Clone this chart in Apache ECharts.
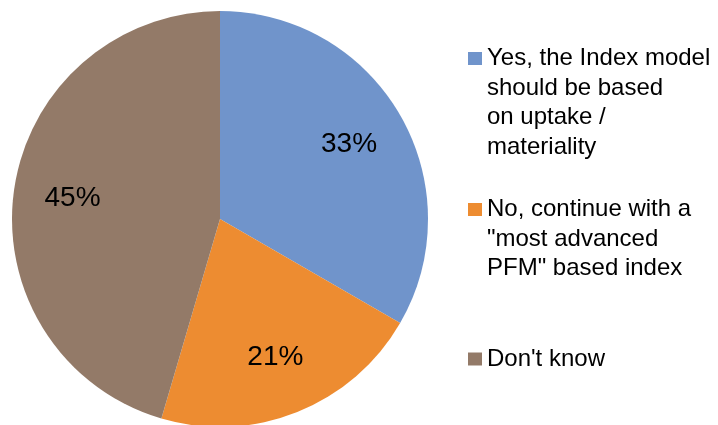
<!DOCTYPE html>
<html>
<head>
<meta charset="utf-8">
<script src="https://cdn.jsdelivr.net/npm/echarts@6/dist/echarts.min.js"></script>
<style>
  html, body { margin: 0; padding: 0; background: #ffffff; }
  #chart { width: 718px; height: 425px; }
</style>
</head>
<body>
<div id="chart"></div>
<script>
// Survey answers (percent of respondents)
const categories = [
  'Yes, the Index model\nshould be based\non uptake /\nmateriality',
  'No, continue with a\n"most advanced\nPFM" based index',
  "Don't know"
];
const values = [33, 21, 45];
const colors = ['#7094CB', '#ED8C31', '#937A68'];

const LINE_H = 29.5;
const legendTops = [-44.75, 135.75, 344.25];

const pieData = categories.map((name, i) => ({
  name: name,
  value: values[i],
  itemStyle: { color: colors[i] }
}));

// One legend block per answer; blank leading lines keep the swatch beside the first line
const legends = categories.map((name, i) => {
  const lines = name.split('\n').length;
  return {
    data: [name],
    orient: 'vertical',
    left: 468,
    top: legendTops[i],
    padding: 0,
    itemWidth: 14,
    itemHeight: 13,
    itemGap: 0,
    icon: 'rect',
    selectedMode: false,
    formatter: (n) => '\n'.repeat(lines - 1) + n,
    textStyle: {
      fontFamily: 'Liberation Sans, Arial, sans-serif',
      fontSize: 24,
      lineHeight: LINE_H,
      color: '#000000'
    }
  };
});

const chart = echarts.init(document.getElementById('chart'), null, { renderer: 'canvas' });
chart.setOption({
  animation: false,
  backgroundColor: '#ffffff',
  legend: legends,
  series: [
    {
      type: 'pie',
      center: [220, 219],
      radius: [0, 208],
      startAngle: 90,
      clockwise: true,
      silent: true,
      label: { show: false },
      labelLine: { show: false },
      itemStyle: { borderWidth: 0 },
      data: pieData
    },
    {
      // percentage labels sitting at ~70% of the radius
      type: 'pie',
      center: [220, 219],
      radius: [84, 208],
      startAngle: 90,
      clockwise: true,
      silent: true,
      legendHoverLink: false,
      itemStyle: { color: 'rgba(0,0,0,0)', borderWidth: 0 },
      label: {
        show: true,
        position: 'inside',
        formatter: '{c}%',
        fontFamily: 'Liberation Sans, Arial, sans-serif',
        fontSize: 28,
        color: '#000000'
      },
      labelLine: { show: false },
      data: pieData.map(d => ({ name: d.name, value: d.value }))
    }
  ]
});
</script>
</body>
</html>
